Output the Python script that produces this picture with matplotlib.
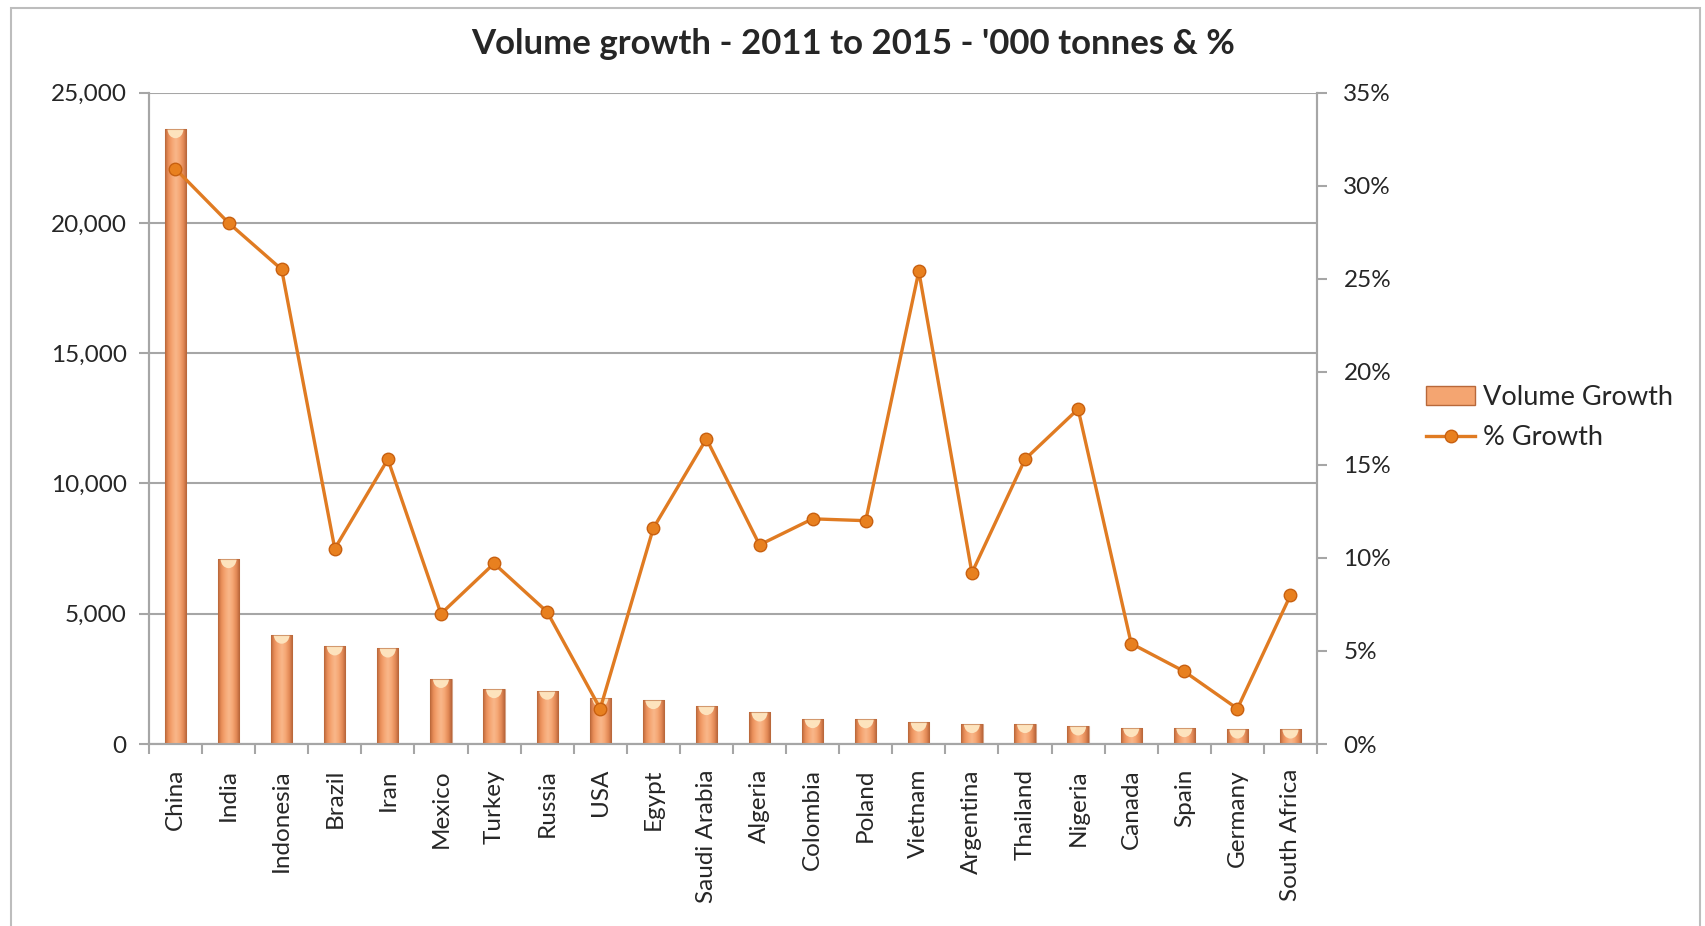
import numpy as np
import matplotlib.pyplot as plt
from matplotlib.patches import Rectangle, Ellipse
from matplotlib.lines import Line2D
from matplotlib.ticker import FuncFormatter, MultipleLocator
from matplotlib.colors import LinearSegmentedColormap

plt.rcParams['font.family'] = ['Lato', 'DejaVu Sans']

countries = ['China', 'India', 'Indonesia', 'Brazil', 'Iran', 'Mexico', 'Turkey',
             'Russia', 'USA', 'Egypt', 'Saudi Arabia', 'Algeria', 'Colombia', 'Poland',
             'Vietnam', 'Argentina', 'Thailand', 'Nigeria', 'Canada', 'Spain',
             'Germany', 'South Africa']
volume_growth = [23600, 7100, 4200, 3750, 3670, 2500, 2110, 2050, 1770, 1690, 1460,
                 1215, 960, 955, 830, 770, 770, 680, 615, 615, 560, 560]
pct_growth = [30.9, 28.0, 25.5, 10.5, 15.3, 7.0, 9.7, 7.1, 1.9, 11.6, 16.4,
              10.7, 12.1, 12.0, 25.4, 9.2, 15.3, 18.0, 5.4, 3.9, 1.9, 8.0]

bar_edge = '#b8683a'
line_col = '#e07b22'
grid_col = '#a6a6a6'
text_col = '#262626'

# shading across each bar: dark edges, light centre
bar_cmap = LinearSegmentedColormap.from_list(
    'bar', ['#c06a3c', '#eb915c', '#f6a775', '#f9b88a', '#f6a775', '#e58c58', '#b8643a'])

fig = plt.figure(figsize=(17.06, 9.26), dpi=100)
fig.patch.set_facecolor('white')
fig.add_artist(Rectangle((0.0065, -0.02), 0.99, 1.011, transform=fig.transFigure,
                         fill=False, edgecolor='#bdbdbd', linewidth=1.5))

ax = fig.add_axes([0.0873, 0.1965, 0.6847, 0.7035])
ax2 = ax.twinx()

x = np.arange(len(countries))
bars = ax.bar(x, volume_growth, width=0.4, color='#f4a571', edgecolor='none', zorder=3)
grad = np.linspace(0, 1, 64).reshape(1, -1)
cap_h = 25000 * 0.014
for b in bars:
    x0, w, h = b.get_x(), b.get_width(), b.get_height()
    im = ax.imshow(grad, cmap=bar_cmap, aspect='auto', extent=(x0, x0 + w, 0, h),
                   zorder=3, interpolation='bicubic')
    im.set_clip_path(b)
    # pale rounded cap at the top of each bar
    cap = Ellipse((x0 + w / 2, h), w * 0.75, cap_h * 2, facecolor='#fde3bd',
                  edgecolor='none', zorder=4)
    ax.add_patch(cap)
    cap.set_clip_path(b)
    ax.add_patch(Rectangle((x0, 0), w, h, fill=False, edgecolor=bar_edge,
                           linewidth=0.8, alpha=0.6, zorder=4))

ax.set_xlim(-0.5, len(countries) - 0.5)
ax.set_ylim(0, 25000)
ax.yaxis.set_major_locator(MultipleLocator(5000))
ax.yaxis.set_major_formatter(FuncFormatter(lambda v, p: f'{int(v):,}'))
ax.grid(axis='y', color=grid_col, linewidth=1.5, zorder=0)
ax.set_axisbelow(True)

ax.set_xticks(x)
ax.set_xticklabels(countries, rotation=90, fontsize=17.5, color=text_col)
ax.set_xticks(np.arange(-0.5, len(countries), 1), minor=True)
ax.tick_params(axis='x', which='major', length=0, pad=18)
ax.tick_params(axis='x', which='minor', length=7, color=grid_col, width=1.5)
ax.tick_params(axis='y', length=7, color=grid_col, width=1.5, labelsize=17.5,
               labelcolor=text_col, pad=9)

ax2.plot(x, pct_growth, color=line_col, linewidth=2.4, marker='o', markersize=9,
         markerfacecolor='#e8801f', markeredgecolor='#c86010', markeredgewidth=1,
         zorder=5)
ax2.set_ylim(0, 35)
ax2.yaxis.set_major_locator(MultipleLocator(5))
ax2.yaxis.set_major_formatter(FuncFormatter(lambda v, p: f'{int(v)}%'))
ax2.tick_params(axis='y', length=7, color=grid_col, width=1.5, labelsize=17.5,
                labelcolor=text_col, pad=12)

for a in (ax, ax2):
    a.spines['top'].set_visible(False)
    for s in ('left', 'right', 'bottom'):
        a.spines[s].set_color(grid_col)
        a.spines[s].set_linewidth(1.5)
ax.set_zorder(ax2.get_zorder() - 1)
ax2.patch.set_visible(False)

fig.text(0.5, 0.953, "Volume growth - 2011 to 2015 - '000 tonnes & %", ha='center',
         va='center', fontsize=25, fontweight='bold', color=text_col)

handles = [Rectangle((0, 0), 1, 1, facecolor='#f4a571', edgecolor=bar_edge),
           Line2D([0], [0], color=line_col, linewidth=2.4, marker='o', markersize=9,
                  markerfacecolor='#e8801f', markeredgecolor='#c86010')]
fig.legend(handles, ['Volume Growth', '% Growth'], loc='center left',
           bbox_to_anchor=(0.836, 0.549), frameon=False, fontsize=19.5,
           handlelength=1.8, handletextpad=0.3, labelspacing=0.55,
           labelcolor=text_col, borderaxespad=0, borderpad=0)

fig.savefig('out.png', dpi=100)
